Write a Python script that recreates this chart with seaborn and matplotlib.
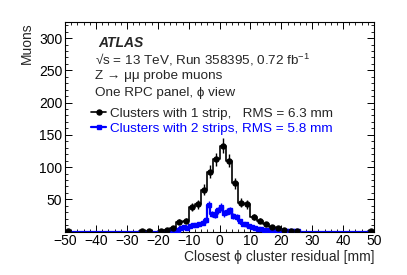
import matplotlib
matplotlib.use("Agg")
import matplotlib.pyplot as plt
import numpy as np
import pandas as pd
import seaborn as sns
from matplotlib.ticker import MultipleLocator
from matplotlib.lines import Line2D

# 1-strip clusters: 2 mm bins, centres -49 .. 49
one_strip_centers = np.arange(-49, 50, 2)
one_strip_nonzero = {
    -49: 1, -25: 1, -23: 1, -19: 1, -17: 2, -15: 5, -13: 15, -11: 17,
    -9: 38, -7: 42, -5: 65, -3: 93, -1: 112, 1: 133, 3: 110, 5: 75,
    7: 45, 9: 42, 11: 23, 13: 17, 15: 12, 17: 7, 19: 5, 21: 3, 23: 1.5,
    25: 1, 49: 1,
}
one_strip_counts = np.array([one_strip_nonzero.get(int(c), 0) for c in one_strip_centers], float)

# 2-strip clusters: 1 mm bins, centres -49.5 .. 49.5
two_strip_centers = np.arange(-49.5, 50, 1.0)
two_strip_nonzero = {
    -16.5: 0.5, -15.5: 1, -14.5: 1.5, -13.5: 2, -12.5: 6, -11.5: 7,
    -10.5: 6, -9.5: 8, -8.5: 10, -7.5: 10, -6.5: 12, -5.5: 14, -4.5: 18,
    -3.5: 41, -2.5: 27, -1.5: 26, -0.5: 33, 0.5: 38, 1.5: 28, 2.5: 31,
    3.5: 33, 4.5: 24, 5.5: 22, 6.5: 16, 7.5: 12, 8.5: 11, 9.5: 9,
    10.5: 7, 11.5: 5, 12.5: 4, 13.5: 4, 14.5: 3, 15.5: 3, 16.5: 2,
    17.5: 2, 18.5: 1.5, 19.5: 1, 20.5: 1, 21.5: 1, 22.5: 1, 23.5: 0.5,
    24.5: 1, 25.5: 0.5,
}
two_strip_counts = np.array([two_strip_nonzero.get(float(c), 0) for c in two_strip_centers], float)

x_ticks = [-50, -40, -30, -20, -10, 0, 10, 20, 30, 40, 50]
y_ticks = [50, 100, 150, 200, 250, 300]

df1 = pd.DataFrame({"x": one_strip_centers, "n": one_strip_counts})
df2 = pd.DataFrame({"x": two_strip_centers, "n": two_strip_counts})

sns.set_theme(style="ticks")
plt.rcParams["font.family"] = ["Liberation Sans", "DejaVu Sans"]
plt.rcParams["mathtext.default"] = "regular"
plt.rcParams["axes.linewidth"] = 0.8

fig = plt.figure(figsize=(4.07, 2.75), dpi=100)
ax = fig.add_axes([0.160, 0.158, 0.759, 0.762])

sns.histplot(data=df1, x="x", weights="n", binwidth=2, binrange=(-50, 50),
             element="step", fill=False, color="black", linewidth=1.2, ax=ax)
sns.histplot(data=df2, x="x", weights="n", binwidth=1, binrange=(-50, 50),
             element="step", fill=False, color="blue", linewidth=1.6, ax=ax)

d1 = df1[df1.n > 0]
ax.errorbar(d1.x, d1.n, yerr=np.sqrt(d1.n), fmt="o", color="black", ms=3.6,
            elinewidth=1.0, capsize=0, zorder=5)
d2 = df2[df2.n > 0]
ax.errorbar(d2.x, d2.n, yerr=np.sqrt(d2.n), fmt="s", color="blue", ms=3.4,
            elinewidth=1.0, capsize=0, zorder=4)

ax.set_xlim(-50, 50)
ax.set_ylim(0, 325)
ax.set_xticks(x_ticks)
ax.set_xticklabels([str(t).replace("-", "\u2212") for t in x_ticks])
ax.set_yticks(y_ticks)
ax.xaxis.set_minor_locator(MultipleLocator(2))
ax.yaxis.set_minor_locator(MultipleLocator(10))
ax.tick_params(which="both", direction="in", top=True, right=True, labelsize=10, colors="black")
ax.tick_params(which="major", length=5, width=0.7, pad=2)
ax.tick_params(which="minor", length=2.5, width=0.6)
for s in ax.spines.values():
    s.set_color("black")

ax.set_xlabel("Closest \u03d5 cluster residual [mm]", fontsize=10, loc="right", labelpad=1)
ax.set_ylabel("Muons", fontsize=10, loc="top", labelpad=4)

ax.text(0.106, 0.90, "ATLAS", transform=ax.transAxes, fontsize=10, fontweight="bold",
        fontstyle="italic", va="center")
ax.text(0.097, 0.82, "\u221as = 13 TeV, Run 358395, 0.72 fb$^{-1}$", transform=ax.transAxes,
        fontsize=9.7, va="center")
ax.text(0.097, 0.74, "Z \u2192 \u03bc\u03bc probe muons", transform=ax.transAxes,
        fontsize=9.7, va="center")
ax.text(0.097, 0.662, "One RPC panel, \u03d5 view", transform=ax.transAxes,
        fontsize=9.7, va="center")

handles = [
    Line2D([], [], color="black", marker="o", ms=3.6, lw=1.2),
    Line2D([], [], color="blue", marker="s", ms=3.4, lw=1.6),
]
leg = ax.legend(handles, ["Clusters with 1 strip,   RMS = 6.3 mm",
                          "Clusters with 2 strips, RMS = 5.8 mm"],
                loc="upper left", bbox_to_anchor=(0.085, 0.593), frameon=False,
                fontsize=9.7, handlelength=1.1, handletextpad=0.3, labelspacing=0.2,
                borderaxespad=0, borderpad=0)
leg.get_texts()[1].set_color("blue")

fig.savefig("out.png", dpi=100)
